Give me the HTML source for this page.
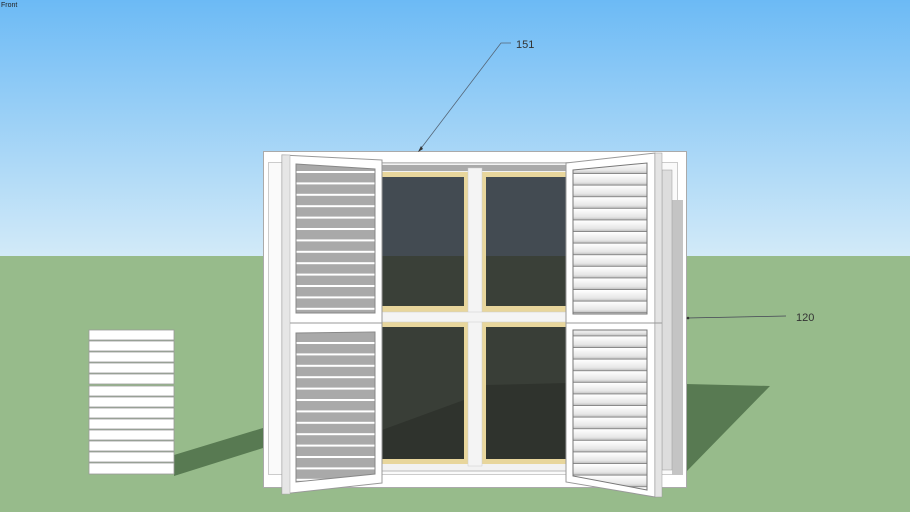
<!DOCTYPE html>
<html><head><meta charset="utf-8"><style>body{margin:0}svg{display:block}</style></head><body>
<svg width="910" height="512" viewBox="0 0 910 512" xmlns="http://www.w3.org/2000/svg" font-family="Liberation Sans, sans-serif">
<defs>
<linearGradient id="sky" x1="0" y1="0" x2="0" y2="1"><stop offset="0" stop-color="#6cbaf5"/><stop offset="1" stop-color="#d2eaf8"/></linearGradient>
<linearGradient id="slat" x1="0" y1="0" x2="0" y2="1"><stop offset="0" stop-color="#ffffff"/><stop offset="0.7" stop-color="#e6e6e6"/><stop offset="1" stop-color="#b8b8b8"/></linearGradient>
<pattern id="lslat" x="0" y="0" width="10" height="11.4" patternUnits="userSpaceOnUse"><rect width="10" height="11.4" fill="#a9a9a9"/><rect y="0" width="10" height="2" fill="#fff"/></pattern>
<pattern id="rslat" x="0" y="0" width="10" height="11.6" patternUnits="userSpaceOnUse"><rect width="10" height="11.6" fill="url(#slat)"/><rect y="10.6" width="10" height="1" fill="#888"/></pattern>
</defs>
<rect width="910" height="256" fill="url(#sky)"/>
<rect y="256" width="910" height="256" fill="#97bb8b"/>
<text x="1" y="7" font-size="7" fill="#222">Front</text>
<!-- shadows -->
<polygon points="174,455 263,428 263,448 174,476" fill="#587a52"/>
<polygon points="686,384 770,386 686,472" fill="#587a52"/>
<!-- outer frame -->
<rect x="263.5" y="151.5" width="423" height="336" fill="#fff" stroke="#aaa"/>
<rect x="268.5" y="162.5" width="409" height="312" fill="#fafafa" stroke="#ccc"/>
<rect x="372" y="163" width="200" height="308" fill="#f2f2f2" stroke="#bbb"/>
<rect x="376" y="165" width="190" height="6" fill="#aaa"/>
<!-- panes -->
<g>
<rect x="378" y="172" width="90" height="140" fill="#e8d69c"/>
<rect x="482" y="172" width="90" height="140" fill="#e8d69c"/>
<rect x="378" y="322" width="90" height="142" fill="#e8d69c"/>
<rect x="482" y="322" width="90" height="142" fill="#e8d69c"/>
<rect x="382" y="177" width="82" height="79" fill="#434b52"/>
<rect x="382" y="256" width="82" height="50" fill="#3a4038"/>
<rect x="486" y="177" width="82" height="79" fill="#434b52"/>
<rect x="486" y="256" width="82" height="50" fill="#3a4038"/>
<rect x="382" y="327" width="82" height="132" fill="#393e37"/>
<rect x="486" y="327" width="82" height="132" fill="#393e37"/>
<polygon points="382,430 464,400 464,459 382,459" fill="#2f332d"/>
<polygon points="486,385 568,383 568,459 486,459" fill="#2f332d"/>
<rect x="468" y="168" width="14" height="298" fill="#f4f4f4" stroke="#ccc" stroke-width="0.5"/>
<rect x="376" y="312" width="196" height="10" fill="#f4f4f4" stroke="#ccc" stroke-width="0.5"/>
</g>
<!-- right hinge side detail -->
<rect x="672" y="200" width="11" height="275" fill="#c4c4c4"/>
<rect x="662" y="170" width="10" height="300" fill="#ddd" stroke="#999" stroke-width="0.5"/>
<!-- left shutter -->
<polygon points="282,155 382,160 382,323 282,323" fill="#fff" stroke="#999"/>
<polygon points="282,323 382,323 382,483 282,494" fill="#fff" stroke="#999"/>
<rect x="282" y="155" width="8" height="339" fill="#e6e6e6" stroke="#aaa" stroke-width="0.5"/>
<polygon points="296,164 375,169 375,313 296,313" fill="url(#lslat)" stroke="#888"/>
<polygon points="296,333 375,332 375,474 296,482" fill="url(#lslat)" stroke="#888"/>
<!-- right shutter -->
<polygon points="566,163 655,153 655,497 566,482" fill="#fff" stroke="#999"/>
<rect x="655" y="153" width="7" height="344" fill="#e4e4e4" stroke="#999" stroke-width="0.5"/>
<line x1="566" y1="323" x2="662" y2="323" stroke="#999"/>
<polygon points="573,170 647,163 647,314 573,314" fill="url(#rslat)" stroke="#777"/>
<polygon points="573,330 647,330 647,490 573,476" fill="url(#rslat)" stroke="#777"/>
<!-- slat stack -->
<g fill="#fff" stroke="#999" stroke-width="0.8">
<rect x="89" y="330" width="85" height="10"/><rect x="89" y="341" width="85" height="10"/><rect x="89" y="352" width="85" height="10"/><rect x="89" y="363" width="85" height="10"/><rect x="89" y="374" width="85" height="10"/><rect x="89" y="386" width="85" height="10"/><rect x="89" y="397" width="85" height="10"/><rect x="89" y="408" width="85" height="10"/><rect x="89" y="419" width="85" height="10"/><rect x="89" y="430" width="85" height="10"/><rect x="89" y="441" width="85" height="10"/><rect x="89" y="452" width="85" height="10"/><rect x="89" y="463" width="85" height="11"/>
</g>
<!-- leaders -->
<polyline points="419,151 501,43 511,43" fill="none" stroke="#556677" stroke-width="0.8"/>
<polygon points="418,152 421,146 423,149" fill="#333"/>
<text x="516" y="48" font-size="11" fill="#333">151</text>
<line x1="687" y1="318" x2="786" y2="316" stroke="#445" stroke-width="0.8"/>
<circle cx="688" cy="318" r="1.3" fill="#333"/>
<text x="796" y="321" font-size="11" fill="#333">120</text>
</svg>
</body></html>
